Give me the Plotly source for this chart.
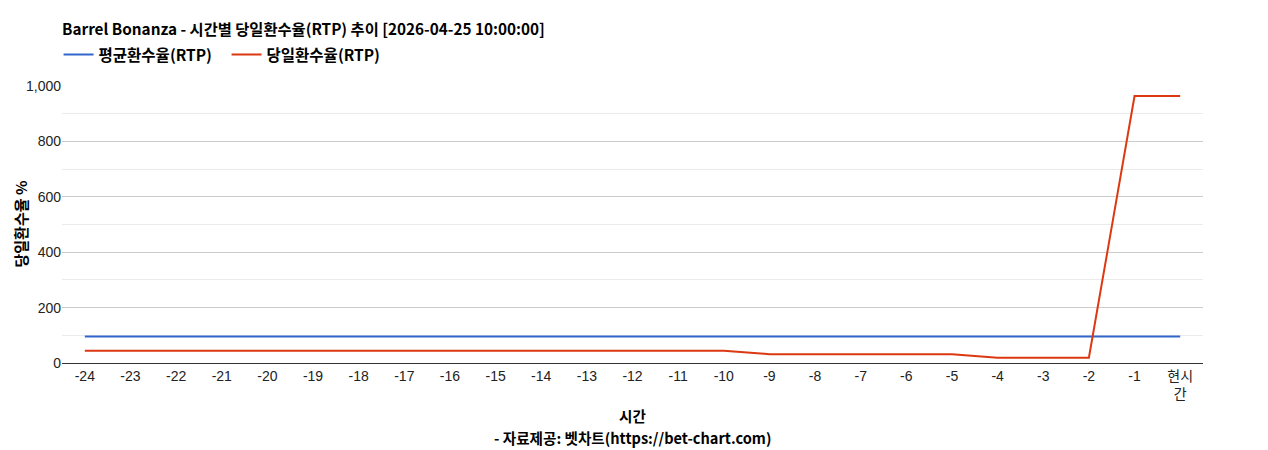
import plotly.graph_objects as go

categories = [str(i) for i in range(-24, 0)] + ["현시<br>간"]
avg_rtp = [96] * 25
daily_rtp = [44] * 15 + [32] * 5 + [19] * 3 + [964, 964]

title_text = "Barrel Bonanza - 시간별 당일환수율(RTP) 추이 [2026-04-25 10:00:00]"
series_names = ["평균환수율(RTP)", "당일환수율(RTP)"]
kfont = "Noto Sans CJK KR"
afont = "Liberation Sans, Arial, Noto Sans CJK KR"

W, H = 1268, 450
OFF = 8  # page body offset
L, R, T, B = 62 - OFF, W - 1203 + OFF, 86 - OFF, H - 363 + OFF
PW, PH = W - L - R, H - T - B

fig = go.Figure()
fig.add_trace(go.Scatter(x=categories, y=avg_rtp, mode="lines", name="<b>" + series_names[0] + "</b>",
                         line=dict(color="#3366cc", width=2)))
fig.add_trace(go.Scatter(x=categories, y=daily_rtp, mode="lines", name="<b>" + series_names[1] + "</b>",
                         line=dict(color="#dc3912", width=2)))

fig.update_layout(
    width=W, height=H,
    margin=dict(l=L, r=R, t=T, b=B, autoexpand=False),
    paper_bgcolor="white", plot_bgcolor="white",
    title=dict(text="<b>" + title_text + "</b>", x=L / W, xanchor="left", y=1 - (30 - OFF) / H, yanchor="middle",
               font=dict(family=kfont, size=15.3, color="#000")),
    legend=dict(orientation="h", x=-0.003, xanchor="left", y=1 + 31 / PH, yanchor="middle",
                font=dict(family=kfont, size=15.5, color="#000"), itemwidth=30,
                entrywidth=123, entrywidthmode="pixels",
                bgcolor="rgba(0,0,0,0)"),
    showlegend=True,
    xaxis=dict(type="category", range=[-0.5, 24.5], showgrid=False, showline=True, automargin=False,
               linecolor="#333", linewidth=1, ticks="", tickfont=dict(family=afont, size=14, color="#222"),
               fixedrange=True),
    yaxis=dict(range=[0, 1000], dtick=200, tickformat=",d", showgrid=True, gridcolor="#cccccc",
               gridwidth=1, zeroline=True, zerolinecolor="#333", zerolinewidth=1, automargin=False,
               tickfont=dict(family=afont, size=14, color="#222"), ticks="",
               minor=dict(dtick=100, showgrid=True, gridcolor="#ebebeb", gridwidth=1)),
)

fig.add_annotation(text="<b>당일환수율 %</b>", xref="paper", yref="paper", x=(0 - L) / PW,
                   y=(363 - 224) / PH, textangle=-90, showarrow=False, xanchor="left", yanchor="middle",
                   borderpad=0, font=dict(family=kfont, size=15, color="#000"))
fig.add_annotation(text="<b>시간</b>", xref="paper", yref="paper", x=0.5, y=-52 / PH,
                   showarrow=False, font=dict(family=kfont, size=14.6, color="#000"), yanchor="middle")
fig.add_annotation(text="<b>- 자료제공: 벳차트(https://bet-chart.com)</b>", xref="paper", yref="paper", x=0.5,
                   y=-74 / PH, showarrow=False, font=dict(family=kfont, size=14.6, color="#000"), yanchor="middle")

fig.write_html("out.html")
